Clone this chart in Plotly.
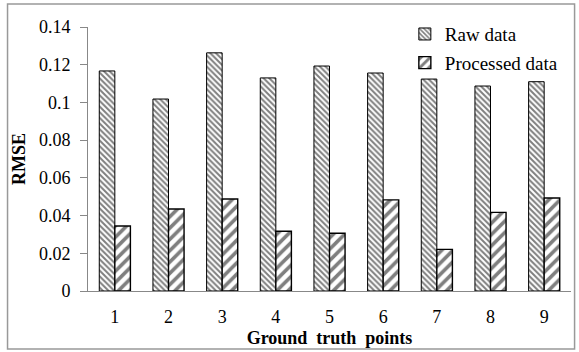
import plotly.graph_objects as go

categories = ["1", "2", "3", "4", "5", "6", "7", "8", "9"]
raw_data = [0.1167, 0.1018, 0.1263, 0.1130, 0.1193, 0.1156, 0.1124, 0.1087, 0.1110]
processed_data = [0.0345, 0.0435, 0.0488, 0.0317, 0.0306, 0.0483, 0.0221, 0.0417, 0.0493]
y_ticks = [0, 0.02, 0.04, 0.06, 0.08, 0.1, 0.12, 0.14]

FONT = "Liberation Serif"

fig = go.Figure()
fig.add_trace(go.Bar(
    x=categories, y=raw_data, name="Raw data", legendgroup="a",
    marker=dict(color="white", line=dict(color="black", width=1),
                pattern=dict(shape="\\", fgcolor="black", bgcolor="white",
                             size=4, solidity=0.5)),
))
fig.add_trace(go.Bar(
    x=categories, y=processed_data, name="Processed data", legendgroup="b",
    marker=dict(color="white", line=dict(color="black", width=1.4),
                pattern=dict(shape="/", fgcolor="black", bgcolor="white",
                             size=8, solidity=0.45)),
))

fig.update_layout(
    width=579, height=352,
    margin=dict(l=88, r=8, t=27, b=61, autoexpand=False),
    paper_bgcolor="white", plot_bgcolor="white",
    barmode="group", bargap=0.42, bargroupgap=0,
    font=dict(family=FONT, color="black", size=17),
    showlegend=True,
    legend=dict(x=0.656, y=1.045, xanchor="left", yanchor="top",
                bgcolor="rgba(0,0,0,0)", font=dict(size=19, family=FONT, color="black"),
                itemwidth=30, tracegroupgap=1),
    xaxis=dict(
        showline=True, linecolor="#888", linewidth=1,
        ticks="", showgrid=False, automargin=False,
        tickfont=dict(size=18, family=FONT),
        ticklabelstandoff=9,
        title=dict(text="<b>Ground\u00a0\u00a0truth\u00a0\u00a0points</b>",
                   font=dict(size=18, family=FONT), standoff=5),
    ),
    yaxis=dict(
        range=[0, 0.14], tickvals=y_ticks,
        showline=True, linecolor="#888", linewidth=1,
        ticks="outside", ticklen=7, tickcolor="#888",
        showgrid=False, zeroline=False, automargin=False,
        tickfont=dict(size=18, family=FONT),
        ticklabelstandoff=6,
        title=dict(text="<b>RMSE</b>", font=dict(size=18, family=FONT), standoff=8),
    ),
    shapes=[dict(type="rect", xref="paper", yref="paper",
                 x0=-0.1666, x1=1.0074, y0=-0.2197, y1=1.087,
                 line=dict(color="#999", width=1.5), fillcolor="rgba(0,0,0,0)",
                 layer="below")],
)

fig.write_html("out.html", config={"displayModeBar": False},
               post_script="document.body.style.margin='0';")
